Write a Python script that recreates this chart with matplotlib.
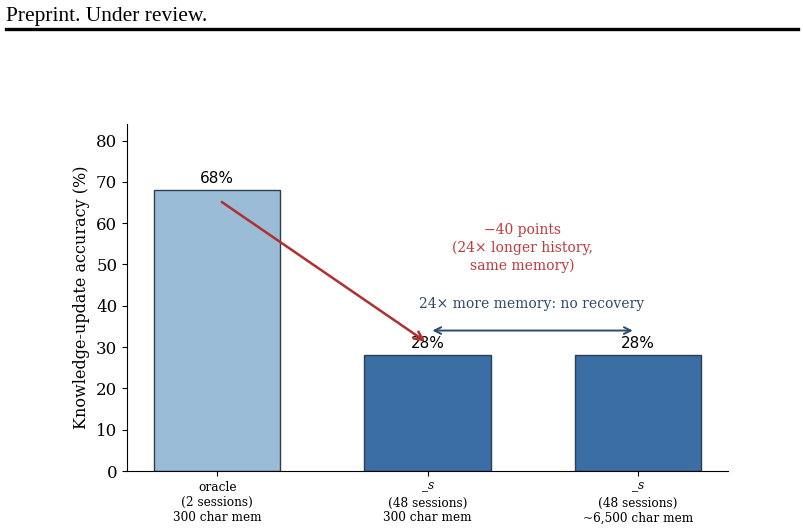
import matplotlib.pyplot as plt

plt.rcParams['font.family'] = ['DejaVu Serif']
plt.rcParams['mathtext.fontset'] = 'dejavuserif'

# data
labels = ['oracle\n(2 sessions)\n300 char mem',
          '_$s$\n(48 sessions)\n300 char mem',
          '_$s$\n(48 sessions)\n~6,500 char mem']
accuracy = [68, 28, 28]
colors = ['#9bbcd7', '#3a6ea5', '#3a6ea5']

fig = plt.figure(figsize=(8.04, 5.30), dpi=100)
ax = fig.add_axes([127 / 804, 59 / 530, 601 / 804, 347 / 530])

# page header
fig.text(6 / 804, 1 - 16 / 530, 'Preprint. Under review.', family='Liberation Serif',
         fontsize=15.5, ha='left', va='center')
fig.add_artist(plt.Line2D([6 / 804, 798 / 804], [1 - 29 / 530, 1 - 29 / 530],
                          color='black', linewidth=2.4, transform=fig.transFigure))

x = list(range(len(accuracy)))
ax.bar(x, accuracy, width=0.6, color=colors, edgecolor='#2c3e50', linewidth=1)

for xi, v in zip(x, accuracy):
    ax.text(xi, v + 1, f'{v}%', ha='center', va='bottom', fontsize=11, family='DejaVu Sans')

ax.set_xticks(x)
ax.set_xticklabels(labels, fontsize=8.7)
ax.set_ylim(0, 84)
ax.set_yticks(range(0, 81, 10))
ax.tick_params(axis='y', labelsize=12)
ax.set_ylabel('Knowledge-update accuracy (%)', fontsize=11.5)
ax.spines['top'].set_visible(False)
ax.spines['right'].set_visible(False)

# drop arrow
ax.annotate('', xy=(1.0, 31), xytext=(0.01, 65.5),
            arrowprops=dict(arrowstyle='->', color='#b03030', lw=1.8, mutation_scale=15))
ax.text(1.45, 54, '\u221240 points\n(24\u00d7 longer history,\nsame memory)',
        ha='center', va='center', fontsize=10, color='#c0393b', linespacing=1.3)

# no recovery arrow
ax.annotate('', xy=(1.99, 34), xytext=(1.01, 34),
            arrowprops=dict(arrowstyle='<->', color='#2c4a6b', lw=1.4, mutation_scale=12))
ax.text(1.495, 40.5, '24\u00d7 more memory: no recovery', ha='center', va='center',
        fontsize=10, color='#2c4a6b')

fig.savefig('out.png', dpi=100)
